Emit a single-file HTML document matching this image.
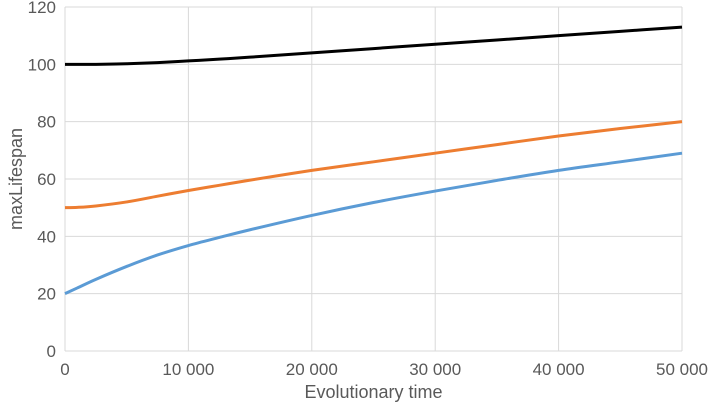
<!DOCTYPE html>
<html><head><meta charset="utf-8"><style>
html,body{margin:0;padding:0;background:#fff;}
svg{display:block;font-family:"Liberation Sans",sans-serif;}
</style></head><body>
<svg id="chart" width="709" height="407"></svg>
<script>
const xValues=[0,1000,2500,5000,7500,10000,12500,15000,20000,25000,30000,35000,40000,45000,50000];
const blackSeries=[100,100,100,100.2,100.6,101.2,101.8,102.5,104,105.5,107,108.5,110,111.5,113];
const orangeSeries=[50,50.1,50.6,52,54,56,57.8,59.6,63,66,69,72,75,77.6,80];
const blueSeries=[20,22,25,29.5,33.5,36.8,39.6,42.3,47.3,51.8,55.8,59.5,63,66,69];
const yTicks=[0,20,40,60,80,100,120];
const xTicks=[0,10000,20000,30000,40000,50000];
const xTickLabels=["0","10 000","20 000","30 000","40 000","50 000"];
const L=65,R=682,T=7,B=351;
const sx=v=>L+(v/50000)*(R-L);
const sy=v=>B-(v/120)*(B-T);
const svg=document.getElementById('chart');
const NS="http://www.w3.org/2000/svg";
function mk(tag,attrs,parent){const e=document.createElementNS(NS,tag);for(const k in attrs)e.setAttribute(k,attrs[k]);(parent||svg).appendChild(e);return e;}
yTicks.forEach(t=>{
  const g=mk('line',{x1:L,x2:R,y1:sy(t),y2:sy(t),stroke:'#d9d9d9','stroke-width':1});
  
  
  const tx=mk('text',{x:L-9,y:sy(t)+6,'text-anchor':'end','font-size':17,fill:'#595959'});
  tx.textContent=t;
  
  
});
xTicks.forEach((t,i)=>{
  const g=mk('line',{x1:sx(t),x2:sx(t),y1:T,y2:B,stroke:'#d9d9d9','stroke-width':1});
  
  
  const tx=mk('text',{x:sx(t),y:B+24,'text-anchor':'middle','font-size':17,fill:'#595959'});
  tx.textContent=xTickLabels[i];
  
  
});
function path(vals){
  const p=xValues.map((x,i)=>[sx(x),sy(vals[i])]);
  let d='M'+p[0][0]+','+p[0][1];
  for(let i=0;i<p.length-1;i++){
    const p0=p[Math.max(i-1,0)],p1=p[i],p2=p[i+1],p3=p[Math.min(i+2,p.length-1)];
    const c1=[p1[0]+(p2[0]-p0[0])/6,p1[1]+(p2[1]-p0[1])/6];
    const c2=[p2[0]-(p3[0]-p1[0])/6,p2[1]-(p3[1]-p1[1])/6];
    d+=`C${c1[0]},${c1[1]} ${c2[0]},${c2[1]} ${p2[0]},${p2[1]}`;
  }
  return d;
}
const s1=mk('path',{d:path(blackSeries),fill:'none',stroke:'#000','stroke-width':3});


const s2=mk('path',{d:path(orangeSeries),fill:'none',stroke:'#ed7d31','stroke-width':3});


const s3=mk('path',{d:path(blueSeries),fill:'none',stroke:'#5b9bd5','stroke-width':3});


const xt=mk('text',{x:(L+R)/2,y:398,'text-anchor':'middle','font-size':18,fill:'#595959'});
xt.textContent='Evolutionary time';


const yt=mk('text',{x:0,y:0,'text-anchor':'middle','font-size':18,fill:'#595959',transform:`translate(22,${(T+B)/2}) rotate(-90)`});
yt.textContent='maxLifespan';


</script>
</body></html>
